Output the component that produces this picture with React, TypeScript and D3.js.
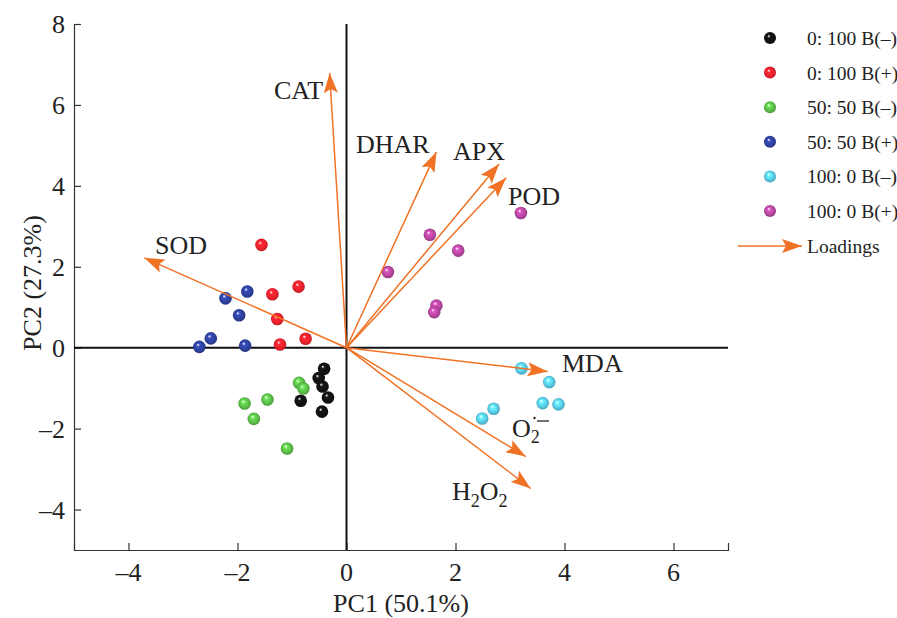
import React, { useRef, useEffect } from 'react';
import * as d3 from 'd3';

const groups = ['0: 100 B(\u2013)', '0: 100 B(+)', '50: 50 B(\u2013)', '50: 50 B(+)', '100: 0 B(\u2013)', '100: 0 B(+)'];
const groupColors = ['#111111', '#e5202b', '#58b947', '#2d3f99', '#55c5e0', '#b2459c'];

// scores per group: [PC1, PC2]
const scoresB0 = [[-0.41, -0.52], [-0.51, -0.75], [-0.44, -0.96], [-0.34, -1.23], [-0.84, -1.31], [-0.45, -1.58]];
const scoresR0 = [[-1.56, 2.54], [-0.88, 1.51], [-1.36, 1.32], [-1.27, 0.71], [-0.75, 0.22], [-1.22, 0.08]];
const scoresG50 = [[-0.87, -0.87], [-0.79, -1.01], [-1.45, -1.28], [-1.87, -1.38], [-1.7, -1.76], [-1.09, -2.49]];
const scoresB50 = [[-1.82, 1.39], [-2.22, 1.22], [-1.97, 0.8], [-2.49, 0.23], [-2.7, 0.02], [-1.86, 0.05]];
const scoresC100 = [[3.21, -0.51], [3.72, -0.85], [3.6, -1.37], [3.89, -1.4], [2.7, -1.51], [2.49, -1.75]];
const scoresM100 = [[1.53, 2.79], [2.05, 2.4], [0.76, 1.87], [1.65, 1.04], [1.61, 0.88], [3.2, 3.33]];
const scoreSets = [scoresB0, scoresR0, scoresG50, scoresB50, scoresC100, scoresM100];

const loadingNames = ['CAT', 'DHAR', 'APX', 'POD', 'SOD', 'MDA', 'O2', 'H2O2'];
const loadingX = [-0.31, 1.65, 2.8, 2.93, -3.71, 3.69, 3.29, 3.38];
const loadingY = [6.79, 4.84, 4.54, 4.2, 2.22, -0.59, -2.69, -3.48];

const xTicks = [-4, -2, 0, 2, 4, 6];
const yTicks = [-4, -2, 0, 2, 4, 6, 8];

const App = () => {
    const ref = useRef(null);

    useEffect(() => {
        const width = 897;
        const height = 618;
        const font = '"Liberation Serif", "DejaVu Serif", serif';
        const orange = '#f07224';
        const ink = '#222';

        const x = d3.scaleLinear([-5, 7], [74, 728]);
        const y = d3.scaleLinear([-5, 8], [550, 24]);

        const svg = d3.create('svg')
            .attr('width', width)
            .attr('height', height)
            .attr('viewBox', [0, 0, width, height])
            .style('position', 'absolute')
            .style('left', 0)
            .style('top', 0)
            .style('background', '#fff')
            .style('font-family', font);

        const defs = svg.append('defs');
        groupColors.forEach((c, i) => {
            const g = defs.append('radialGradient')
                .attr('id', `ball${i}`)
                .attr('cx', 0.5).attr('cy', 0.5).attr('r', 0.55)
                .attr('fx', 0.38).attr('fy', 0.32);
            g.append('stop').attr('offset', '0%').attr('stop-color', '#ffffff').attr('stop-opacity', 0.9);
            g.append('stop').attr('offset', '25%').attr('stop-color', d3.color(c).brighter(0.6).formatHex());
            g.append('stop').attr('offset', '70%').attr('stop-color', c);
            g.append('stop').attr('offset', '100%').attr('stop-color', d3.color(c).darker(0.7).formatHex());
        });
        defs.append('marker')
            .attr('id', 'head')
            .attr('viewBox', '0 0 20 14')
            .attr('refX', 20).attr('refY', 7)
            .attr('markerWidth', 20).attr('markerHeight', 14)
            .attr('markerUnits', 'userSpaceOnUse')
            .attr('orient', 'auto')
            .append('path')
            .attr('d', 'M0,0L20,7L0,14L4,7Z')
            .attr('fill', orange);

        // left axis
        svg.append('g')
            .attr('transform', `translate(${x(-5)},0)`)
            .call(d3.axisRight(y).tickValues(yTicks).tickSize(7).tickFormat(() => ''))
            .call(g => g.selectAll('path,line').attr('stroke', '#333').attr('stroke-width', 1.2));
        svg.append('g')
            .selectAll('text')
            .data(yTicks)
            .join('text')
            .attr('x', 65)
            .attr('y', d => y(d) + 9)
            .attr('text-anchor', 'end')
            .attr('font-size', 26)
            .attr('fill', ink)
            .text(d => d < 0 ? `\u2013${-d}` : d);

        // bottom axis
        svg.append('g')
            .attr('transform', `translate(0,${y(-5)})`)
            .call(d3.axisTop(x).tickValues(xTicks).tickSize(7).tickFormat(() => ''))
            .call(g => g.selectAll('path,line').attr('stroke', '#333').attr('stroke-width', 1.2));
        svg.append('g')
            .selectAll('text')
            .data(xTicks)
            .join('text')
            .attr('x', d => x(d))
            .attr('y', 581)
            .attr('text-anchor', 'middle')
            .attr('font-size', 26)
            .attr('fill', ink)
            .text(d => d < 0 ? `\u2013${-d}` : d);

        // zero lines
        svg.append('line')
            .attr('x1', x(-5)).attr('x2', x(7))
            .attr('y1', y(0)).attr('y2', y(0))
            .attr('stroke', '#111').attr('stroke-width', 2);
        svg.append('line')
            .attr('x1', x(0)).attr('x2', x(0))
            .attr('y1', y(8)).attr('y2', y(-5))
            .attr('stroke', '#111').attr('stroke-width', 2);

        // axis titles
        svg.append('text')
            .attr('x', 401).attr('y', 612)
            .attr('text-anchor', 'middle')
            .attr('font-size', 26)
            .attr('fill', ink)
            .text('PC1 (50.1%)');
        svg.append('text')
            .attr('transform', `translate(41,283) rotate(-90)`)
            .attr('text-anchor', 'middle')
            .attr('font-size', 26)
            .attr('fill', ink)
            .text('PC2 (27.3%)');

        // points
        scoreSets.forEach((set, i) => {
            svg.append('g')
                .selectAll('circle')
                .data(set)
                .join('circle')
                .attr('cx', d => x(d[0]))
                .attr('cy', d => y(d[1]))
                .attr('r', 6.3)
                .attr('fill', `url(#ball${i})`);
        });

        // loadings
        const loadings = loadingNames.map((n, i) => ({ name: n, lx: loadingX[i], ly: loadingY[i] }));
        svg.append('g')
            .selectAll('line')
            .data(loadings)
            .join('line')
            .attr('x1', x(0)).attr('y1', y(0))
            .attr('x2', d => x(d.lx)).attr('y2', d => y(d.ly))
            .attr('stroke', orange)
            .attr('stroke-width', 1.5)
            .attr('marker-end', 'url(#head)');

        const labelPos = {
            CAT: [274, 99], DHAR: [356, 153], APX: [453, 160], POD: [508, 205],
            SOD: [155, 254], MDA: [562, 372]
        };
        const lab = svg.append('g').attr('font-size', 26).attr('fill', ink);
        Object.entries(labelPos).forEach(([k, p]) => {
            lab.append('text').attr('x', p[0]).attr('y', p[1]).text(k);
        });
        const o2 = lab.append('text').attr('x', 512).attr('y', 437);
        o2.append('tspan').text('O');
        o2.append('tspan').attr('font-size', 18).attr('dy', 6).text('2');
        lab.append('circle').attr('cx', 534.5).attr('cy', 418).attr('r', 1.2).attr('fill', ink);
        lab.append('line')
            .attr('x1', 537).attr('x2', 549).attr('y1', 421).attr('y2', 421)
            .attr('stroke', ink).attr('stroke-width', 1.3);
        const h2o2 = lab.append('text').attr('x', 452).attr('y', 500);
        h2o2.append('tspan').text('H');
        h2o2.append('tspan').attr('font-size', 18).attr('dy', 7).text('2');
        h2o2.append('tspan').attr('dy', -7).text('O');
        h2o2.append('tspan').attr('font-size', 18).attr('dy', 7).text('2');

        // legend
        const leg = svg.append('g');
        groups.forEach((name, i) => {
            const ly = 38 + i * 34.6;
            leg.append('circle')
                .attr('cx', 770).attr('cy', ly).attr('r', 6)
                .attr('fill', `url(#ball${i})`);
            leg.append('text')
                .attr('x', 807).attr('y', ly + 7)
                .attr('font-size', 19.5)
                .attr('fill', ink)
                .text(name);
        });
        leg.append('line')
            .attr('x1', 738).attr('x2', 802)
            .attr('y1', 246).attr('y2', 246)
            .attr('stroke', orange).attr('stroke-width', 1.5)
            .attr('marker-end', 'url(#head)');
        leg.append('text')
            .attr('x', 807).attr('y', 253)
            .attr('font-size', 19.5)
            .attr('fill', ink)
            .text('Loadings');

        ref.current.appendChild(svg.node());
        return () => {
            if (ref.current) ref.current.innerHTML = '';
        };
    }, []);

    return <div ref={ref}></div>;
};

export default App;
